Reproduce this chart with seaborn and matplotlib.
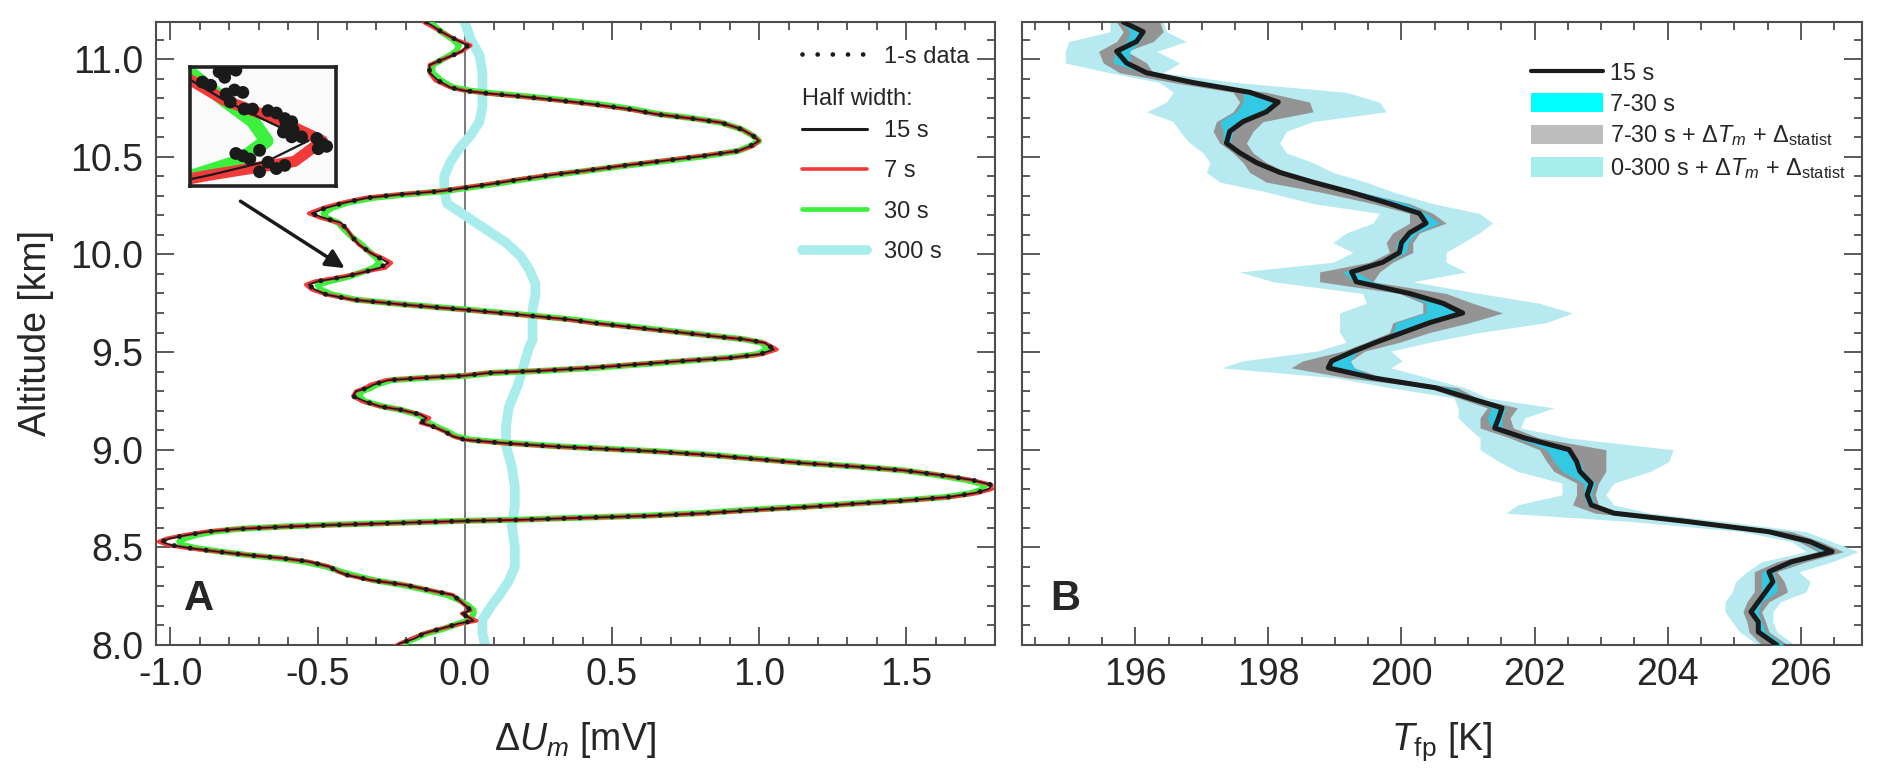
import seaborn as sns
import matplotlib.pyplot as plt
from matplotlib.lines import Line2D
from matplotlib.patches import Patch
from matplotlib.ticker import MultipleLocator, FormatStrFormatter

# ---------------- panel A: voltage deviation vs altitude ----------------
alt_l = [11.19, 11.14, 11.10, 11.07, 11.04, 11.02, 10.97, 10.93, 10.89, 10.855,
         10.838, 10.824, 10.809, 10.792, 10.77, 10.744, 10.718, 10.696, 10.675, 10.641,
         10.607, 10.581, 10.555, 10.530, 10.504, 10.478, 10.453, 10.427, 10.41, 10.384,
         10.358, 10.341, 10.324, 10.307, 10.290, 10.264, 10.239, 10.210, 10.187, 10.162,
         10.128, 10.085, 10.050, 10.008, 9.982, 9.957, 9.931, 9.914, 9.888, 9.862,
         9.845, 9.820, 9.794, 9.768, 9.743, 9.717, 9.691, 9.666, 9.649, 9.614,
         9.599, 9.580, 9.565, 9.547, 9.513, 9.488, 9.470, 9.453, 9.436, 9.419,
         9.405, 9.393, 9.379, 9.367, 9.356, 9.333, 9.316, 9.299, 9.274, 9.248,
         9.222, 9.205, 9.180, 9.162, 9.137, 9.120, 9.094, 9.068, 9.051, 9.034,
         9.017, 9.008, 8.991, 8.974, 8.952, 8.931, 8.914, 8.894, 8.871, 8.846,
         8.820, 8.798, 8.777, 8.757, 8.740, 8.723, 8.709, 8.692, 8.675, 8.661,
         8.652, 8.647, 8.641, 8.635, 8.623, 8.615, 8.606, 8.594, 8.581, 8.564,
         8.546, 8.529, 8.512, 8.495, 8.478, 8.461, 8.444, 8.427, 8.401, 8.375,
         8.358, 8.332, 8.307, 8.281, 8.256, 8.230, 8.204, 8.178, 8.161, 8.136,
         8.124, 8.110, 8.084, 8.059, 8.033, 8.008, 7.991]

# 15 s half width
u15 = [-0.13, -0.08, -0.03, 0.01, -0.01, -0.04, -0.12, -0.12, -0.09, -0.05,
       0.00, 0.08, 0.19, 0.30, 0.43, 0.56, 0.65, 0.77, 0.87, 0.94,
       0.98, 1.00, 0.97, 0.93, 0.81, 0.67, 0.53, 0.40, 0.31, 0.19,
       0.08, 0.00, -0.08, -0.22, -0.33, -0.41, -0.47, -0.52, -0.48, -0.42,
       -0.40, -0.38, -0.36, -0.32, -0.29, -0.26, -0.29, -0.33, -0.40, -0.50,
       -0.53, -0.51, -0.47, -0.38, -0.21, 0.00, 0.19, 0.36, 0.44, 0.65,
       0.74, 0.85, 0.95, 1.02, 1.05, 1.00, 0.90, 0.73, 0.58, 0.43,
       0.27, 0.08, 0.00, -0.15, -0.26, -0.31, -0.33, -0.37, -0.38, -0.34,
       -0.29, -0.22, -0.15, -0.13, -0.15, -0.11, -0.07, -0.04, 0.00, 0.13,
       0.30, 0.42, 0.65, 0.82, 0.99, 1.15, 1.32, 1.49, 1.61, 1.72,
       1.79, 1.78, 1.73, 1.64, 1.50, 1.32, 1.19, 0.99, 0.82, 0.62,
       0.42, 0.31, 0.19, 0.00, -0.26, -0.44, -0.60, -0.77, -0.87, -0.94,
       -1.00, -1.03, -1.00, -0.93, -0.84, -0.74, -0.62, -0.53, -0.46, -0.43,
       -0.40, -0.32, -0.20, -0.12, -0.04, -0.02, 0.00, 0.02, -0.01, 0.02,
       0.03, -0.02, -0.08, -0.14, -0.17, -0.22, -0.24]

# 7 s half width
u7 = [-0.14, -0.08, -0.03, 0.02, -0.01, -0.04, -0.12, -0.12, -0.10, -0.05,
      0.00, 0.07, 0.18, 0.29, 0.42, 0.55, 0.65, 0.77, 0.87, 0.94,
      0.98, 1.00, 0.98, 0.93, 0.80, 0.66, 0.53, 0.40, 0.30, 0.18,
      0.07, -0.01, -0.09, -0.23, -0.34, -0.42, -0.48, -0.53, -0.49, -0.43,
      -0.40, -0.38, -0.36, -0.32, -0.28, -0.25, -0.27, -0.33, -0.41, -0.51,
      -0.54, -0.52, -0.47, -0.38, -0.21, -0.01, 0.18, 0.35, 0.43, 0.64,
      0.74, 0.85, 0.95, 1.02, 1.06, 1.01, 0.90, 0.72, 0.57, 0.42,
      0.26, 0.07, -0.01, -0.16, -0.27, -0.32, -0.34, -0.37, -0.38, -0.35,
      -0.29, -0.22, -0.15, -0.12, -0.15, -0.11, -0.07, -0.04, 0.00, 0.12,
      0.29, 0.41, 0.64, 0.81, 0.98, 1.15, 1.32, 1.49, 1.61, 1.72,
      1.79, 1.79, 1.74, 1.65, 1.51, 1.33, 1.20, 1.00, 0.83, 0.63,
      0.43, 0.32, 0.20, 0.01, -0.25, -0.44, -0.61, -0.78, -0.88, -0.95,
      -1.01, -1.04, -1.01, -0.94, -0.84, -0.74, -0.62, -0.53, -0.46, -0.43,
      -0.40, -0.32, -0.20, -0.12, -0.04, -0.02, 0.00, 0.02, -0.01, 0.02,
      0.04, -0.01, -0.08, -0.14, -0.18, -0.22, -0.24]

# 30 s half width
u30 = [-0.12, -0.08, -0.04, -0.02, -0.03, -0.05, -0.11, -0.11, -0.08, -0.04,
       0.02, 0.10, 0.21, 0.32, 0.45, 0.57, 0.66, 0.78, 0.87, 0.94,
       0.98, 1.00, 0.97, 0.93, 0.82, 0.68, 0.54, 0.41, 0.32, 0.20,
       0.09, 0.01, -0.07, -0.20, -0.31, -0.40, -0.45, -0.48, -0.47, -0.43,
       -0.41, -0.38, -0.35, -0.32, -0.30, -0.29, -0.31, -0.34, -0.39, -0.46,
       -0.50, -0.49, -0.45, -0.37, -0.20, 0.01, 0.20, 0.37, 0.45, 0.66,
       0.75, 0.86, 0.95, 1.01, 1.03, 0.99, 0.89, 0.74, 0.59, 0.44,
       0.28, 0.09, 0.01, -0.14, -0.25, -0.30, -0.32, -0.35, -0.36, -0.34,
       -0.28, -0.22, -0.16, -0.14, -0.12, -0.10, -0.06, -0.03, 0.02, 0.15,
       0.32, 0.44, 0.66, 0.83, 1.00, 1.16, 1.33, 1.49, 1.60, 1.70,
       1.77, 1.76, 1.72, 1.63, 1.49, 1.31, 1.17, 0.97, 0.80, 0.60,
       0.40, 0.29, 0.17, -0.02, -0.29, -0.47, -0.62, -0.77, -0.85, -0.91,
       -0.95, -0.97, -0.96, -0.91, -0.83, -0.74, -0.63, -0.55, -0.47, -0.42,
       -0.38, -0.31, -0.21, -0.13, -0.06, -0.02, 0.01, 0.03, 0.03, 0.02,
       0.01, -0.02, -0.07, -0.13, -0.17, -0.21, -0.23]

# 300 s half width
alt_300 = [11.19, 11.10, 11.02, 10.93, 10.85, 10.76, 10.68, 10.61, 10.54, 10.47,
           10.40, 10.33, 10.26, 10.20, 10.13, 10.06, 9.99, 9.92, 9.85, 9.79,
           9.72, 9.65, 9.56, 9.53, 9.43, 9.33, 9.22, 9.12, 9.02, 8.91,
           8.81, 8.71, 8.61, 8.50, 8.40, 8.33, 8.26, 8.20, 8.13, 8.06, 7.99]
u300 = [0.00, 0.02, 0.05, 0.06, 0.06, 0.06, 0.05, 0.02, -0.02, -0.05,
        -0.07, -0.07, -0.06, 0.00, 0.07, 0.14, 0.19, 0.22, 0.24, 0.24,
        0.23, 0.23, 0.23, 0.22, 0.20, 0.18, 0.15, 0.14, 0.14, 0.16,
        0.17, 0.17, 0.16, 0.17, 0.17, 0.15, 0.12, 0.09, 0.06, 0.06, 0.07]

# 1-s samples shown in the magnified inset
ins_u = [-0.336, -0.330, -0.324, -0.320, -0.316, -0.312, -0.319, -0.316, -0.313, -0.307,
         -0.306, -0.300, -0.289, -0.283, -0.277, -0.276, -0.272, -0.271, -0.278, -0.272,
         -0.265, -0.254, -0.250, -0.253, -0.247, -0.312, -0.307, -0.302, -0.295, -0.289,
         -0.283, -0.277, -0.295]
ins_alt = [10.031, 10.027, 10.044, 10.037, 10.048, 10.046, 10.016, 10.006, 10.021, 10.018,
           9.997, 9.997, 9.995, 9.992, 9.985, 9.976, 9.981, 9.971, 9.968, 9.962,
           9.962, 9.960, 9.953, 9.947, 9.950, 9.941, 9.938, 9.934, 9.945, 9.930,
           9.922, 9.926, 9.918]

# ---------------- panel B: frost point temperature ----------------
alt_r = [11.19, 11.14, 11.09, 11.04, 10.98, 10.93, 10.88, 10.83, 10.78, 10.73,
         10.68, 10.63, 10.57, 10.52, 10.47, 10.42, 10.37, 10.32, 10.26, 10.21,
         10.16, 10.11, 10.06, 10.01, 9.96, 9.91, 9.86, 9.80, 9.75, 9.70,
         9.65, 9.60, 9.55,
         9.505, 9.454, 9.419, 9.368, 9.317, 9.265, 9.214, 9.163, 9.111, 9.060,
         9.000, 8.940, 8.889, 8.829, 8.769, 8.717, 8.675, 8.632, 8.580, 8.529,
         8.478, 8.426, 8.375, 8.324, 8.272, 8.221, 8.170, 8.118, 8.067, 8.000]
t15 = [195.82, 196.12, 196.02, 195.72, 195.87, 196.17, 196.87, 197.72, 198.15, 197.97,
       197.62, 197.42, 197.37, 197.57, 197.82, 198.17, 198.67, 199.22, 199.82, 200.27,
       200.37, 200.12, 200.00, 199.97, 199.72, 199.25, 199.32, 200.12, 200.62, 200.92,
       200.42, 200.02, 199.62,
       199.29, 198.95, 198.90, 199.57, 200.51, 201.01, 201.51, 201.46, 201.40, 201.85,
       202.52, 202.63, 202.68, 202.85, 202.79, 202.85, 203.19, 204.30, 205.52, 206.14,
       206.47, 205.86, 205.52, 205.58, 205.47, 205.36, 205.25, 205.36, 205.36, 205.64]
cyan_lo = [195.80, 195.92, 195.87, 195.70, 195.67, 196.12, 196.82, 197.62, 197.62, 197.52,
           197.27, 197.32, 197.32, 197.52, 197.77, 198.17, 198.67, 199.22, 199.82, 200.22,
           200.32, 200.07, 199.92, 199.92, 199.62, 199.12, 199.27, 200.07, 200.37, 200.37,
           199.92, 199.87, 199.57,
           199.26, 198.95, 198.90, 199.40, 200.51, 200.96, 201.35, 201.29, 201.35, 201.74,
           202.18, 202.29, 202.41, 202.74, 202.74, 202.79, 203.13, 204.30, 205.52, 206.08,
           206.30, 205.75, 205.41, 205.41, 205.41, 205.30, 205.22, 205.30, 205.33, 205.58]
cyan_hi = [195.92, 196.15, 196.07, 195.92, 195.92, 196.25, 196.92, 197.77, 198.17, 198.02,
           197.65, 197.47, 197.42, 197.62, 197.87, 198.27, 198.77, 199.37, 200.07, 200.37,
           200.57, 200.22, 200.10, 200.07, 199.77, 199.32, 199.57, 200.17, 200.67, 200.95,
           200.47, 200.07, 199.67,
           199.34, 199.23, 199.29, 199.62, 200.74, 201.07, 201.57, 201.51, 201.51, 201.90,
           202.54, 202.68, 202.74, 202.91, 202.85, 202.91, 203.24, 204.47, 205.69, 206.25,
           206.50, 205.97, 205.58, 205.64, 205.64, 205.41, 205.36, 205.41, 205.47, 205.75]
gray_lo = [195.72, 195.82, 195.72, 195.45, 195.52, 195.77, 196.57, 197.47, 197.57, 197.47,
           197.22, 197.17, 197.27, 197.47, 197.62, 197.72, 197.97, 198.77, 199.57, 200.12,
           200.12, 199.87, 199.77, 199.82, 199.52, 198.77, 198.77, 199.97, 200.32, 200.32,
           199.87, 199.82, 199.47,
           199.12, 198.51, 198.34, 199.18, 200.40, 200.85, 201.29, 201.18, 201.18, 201.63,
           202.07, 202.18, 202.29, 202.63, 202.63, 202.57, 202.91, 204.13, 205.41, 205.97,
           206.25, 205.64, 205.30, 205.30, 205.30, 205.19, 205.13, 205.19, 205.22, 205.41]
gray_hi = [196.37, 196.42, 196.27, 195.87, 196.17, 196.27, 196.97, 197.97, 198.62, 198.67,
           197.92, 197.77, 197.67, 197.77, 197.97, 198.27, 198.77, 199.37, 200.12, 200.47,
           200.67, 200.27, 200.17, 200.17, 199.87, 199.67, 199.57, 200.67, 201.07, 201.52,
           201.02, 200.42, 199.97,
           199.45, 199.23, 199.29, 199.73, 200.85, 201.13, 201.74, 201.63, 201.68, 202.07,
           203.07, 203.07, 203.07, 202.96, 202.91, 202.96, 203.30, 204.52, 205.86, 206.30,
           206.64, 206.08, 205.64, 205.75, 205.80, 205.52, 205.41, 205.47, 205.52, 205.80]
pale_lo = [195.62, 195.62, 195.00, 194.95, 194.95, 195.62, 196.37, 196.57, 196.47, 196.17,
           196.57, 196.67, 196.82, 197.02, 197.12, 197.07, 197.27, 197.97, 198.67, 199.67,
           199.57, 199.17, 198.97, 199.27, 198.97, 197.57, 198.07, 199.42, 199.47, 199.07,
           199.07, 199.07, 199.17,
           198.73, 197.60, 197.30, 199.01, 199.84, 200.79, 200.85, 200.85, 201.01, 201.18,
           201.18, 201.46, 201.74, 202.41, 202.41, 201.74, 201.57, 203.46, 205.13, 205.86,
           206.08, 205.41, 205.19, 205.02, 204.97, 204.86, 204.86, 204.97, 205.08, 205.36]
pale_hi = [196.42, 196.47, 196.77, 196.32, 196.67, 196.42, 197.52, 199.17, 199.67, 199.77,
           198.67, 198.27, 198.17, 198.27, 198.67, 198.97, 199.47, 199.87, 200.47, 201.17,
           201.37, 201.17, 200.92, 200.67, 200.67, 200.97, 200.17, 201.17, 202.07, 202.57,
           202.17, 201.17, 200.42,
           199.84, 200.01, 199.84, 200.40, 200.96, 201.29, 202.29, 201.85, 201.79, 202.52,
           204.08, 204.02, 203.74, 203.19, 203.07, 203.19, 203.74, 204.86, 206.08, 206.47,
           206.86, 206.47, 205.97, 206.14, 206.08, 205.69, 205.58, 205.58, 205.64, 205.91]

sns.set_theme(style="ticks")
plt.rcParams['font.family'] = ['Liberation Sans', 'DejaVu Sans']
plt.rcParams['mathtext.fontset'] = 'custom'
plt.rcParams['mathtext.rm'] = 'Liberation Sans'
plt.rcParams['mathtext.it'] = 'Liberation Sans:italic'
plt.rcParams['mathtext.bf'] = 'Liberation Sans:bold'
plt.rcParams['axes.unicode_minus'] = False

RED, GREEN, PALE = '#f23a3a', '#3ef03e', '#a8ecec'

fig = plt.figure(figsize=(18.92, 7.8), dpi=100)
axA = fig.add_axes([0.0823, 0.1731, 0.4434, 0.7987])
axB = fig.add_axes([0.5402, 0.1731, 0.4440, 0.7987])


def style_axis(ax):
    for s in ax.spines.values():
        s.set_color('#4d4d4d')
        s.set_linewidth(1.5)
    ax.tick_params(which='both', direction='in', top=True, right=True,
                   color='#4d4d4d', width=1.3, labelsize=27, pad=9)
    ax.tick_params(which='major', length=13)
    ax.tick_params(which='minor', length=6)
    ax.set_ylim(8.0, 11.19)
    ax.yaxis.set_major_locator(MultipleLocator(0.5))
    ax.yaxis.set_minor_locator(MultipleLocator(0.1))
    ax.yaxis.set_major_formatter(FormatStrFormatter('%.1f'))
    ax.grid(False)


# ---- panel A
axA.axvline(0, color='#6e6e6e', lw=1.3, zorder=1)
sns.lineplot(x=u300, y=alt_300, sort=False, estimator=None, color=PALE, lw=7, ax=axA, zorder=2)
sns.lineplot(x=u30, y=alt_l, sort=False, estimator=None, color=GREEN, lw=4.4, ax=axA, zorder=3)
sns.lineplot(x=u7, y=alt_l, sort=False, estimator=None, color=RED, lw=2.8, ax=axA, zorder=4)
sns.lineplot(x=u15, y=alt_l, sort=False, estimator=None, color='k', lw=1.2, ax=axA, zorder=5)
sns.lineplot(x=u15, y=alt_l, sort=False, estimator=None, color='k', lw=3.6,
             linestyle=(0, (0.01, 3.2)), dash_capstyle='round', ax=axA, zorder=6)

style_axis(axA)
axA.set_xlim(-1.05, 1.80)
axA.xaxis.set_major_locator(MultipleLocator(0.5))
axA.xaxis.set_minor_locator(MultipleLocator(0.1))
axA.xaxis.set_major_formatter(FormatStrFormatter('%.1f'))
axA.set_ylabel('Altitude [km]', fontsize=27, labelpad=12)
axA.set_xlabel(r'$\Delta U_m$ [mV]', fontsize=27, labelpad=19)
axA.text(0.052, 0.074, 'A', transform=axA.transAxes, fontsize=30,
         fontweight='bold', ha='center', va='center')

axA.annotate('', xy=(-0.40, 9.922), xytext=(-0.77, 10.28),
             arrowprops=dict(arrowstyle='-|>', color='k', lw=2.5, mutation_scale=28))

leg1 = axA.legend(handles=[Line2D([], [], color='k', lw=3.4, linestyle=(0, (0.01, 3.2)),
                                  dash_capstyle='round')],
                  labels=['1-s data'], loc='upper left', bbox_to_anchor=(0.770, 0.962),
                  frameon=False, fontsize=17, handlelength=2.75, handletextpad=0.75,
                  borderpad=0, borderaxespad=0)
axA.add_artist(leg1)
axA.text(0.770, 0.877, 'Half width:', transform=axA.transAxes, fontsize=17,
         ha='left', va='center')
axA.legend(handles=[Line2D([], [], color='k', lw=2.2),
                    Line2D([], [], color=RED, lw=2.6),
                    Line2D([], [], color=GREEN, lw=3.4),
                    Line2D([], [], color=PALE, lw=7)],
           labels=['15 s', '7 s', '30 s', '300 s'], loc='upper left',
           bbox_to_anchor=(0.770, 0.843), frameon=False, fontsize=17,
           handlelength=2.75, handletextpad=0.75, labelspacing=0.78,
           borderpad=0, borderaxespad=0)

# magnified inset
axI = fig.add_axes([0.1003, 0.7615, 0.0775, 0.1526])
sns.lineplot(x=u30, y=alt_l, sort=False, estimator=None, color=GREEN, lw=10, ax=axI)
sns.lineplot(x=u7, y=alt_l, sort=False, estimator=None, color=RED, lw=8, ax=axI)
sns.lineplot(x=u15, y=alt_l, sort=False, estimator=None, color='k', lw=1.6, ax=axI)
sns.scatterplot(x=ins_u, y=ins_alt, color='k', s=85, edgecolor='none', ax=axI, zorder=5)
axI.set_xlim(-0.345, -0.24)
axI.set_ylim(9.90, 10.05)
axI.set_xticks([])
axI.set_yticks([])
axI.set_facecolor('#fbfbfb')
for s in axI.spines.values():
    s.set_color('#222222')
    s.set_linewidth(2.6)

# ---- panel B
axB.fill_betweenx(alt_r, pale_lo, pale_hi, color='#b6eaf0', lw=0, zorder=1)
axB.fill_betweenx(alt_r, gray_lo, gray_hi, color='#949494', lw=0, zorder=2)
axB.fill_betweenx(alt_r, cyan_lo, cyan_hi, color='#33c9e3', lw=0, zorder=3)
sns.lineplot(x=t15, y=alt_r, sort=False, estimator=None, color='k', lw=3.6, ax=axB, zorder=4)

style_axis(axB)
axB.set_xlim(194.3, 206.92)
axB.xaxis.set_major_locator(MultipleLocator(2))
axB.xaxis.set_minor_locator(MultipleLocator(0.5))
axB.xaxis.set_major_formatter(FormatStrFormatter('%d'))
axB.tick_params(axis='y', labelleft=False)
axB.set_ylabel('')
axB.set_xlabel(r'$T_{\mathrm{fp}}$ [K]', fontsize=27, labelpad=19)
axB.text(0.052, 0.074, 'B', transform=axB.transAxes, fontsize=30,
         fontweight='bold', ha='center', va='center')

axB.legend(handles=[Line2D([], [], color='k', lw=3),
                    Patch(facecolor='#00ffff', edgecolor='none'),
                    Patch(facecolor='#bdbdbd', edgecolor='none'),
                    Patch(facecolor='#a6eeee', edgecolor='none')],
           labels=['15 s', '7-30 s',
                   r'7-30 s + $\Delta T_m$ + $\Delta_{\mathrm{statist}}$',
                   r'0-300 s + $\Delta T_m$ + $\Delta_{\mathrm{statist}}$'],
           loc='upper left', bbox_to_anchor=(0.606, 0.936), frameon=False,
           fontsize=16.8, handlelength=3.1, handleheight=0.9, handletextpad=0.3,
           labelspacing=0.33, borderpad=0, borderaxespad=0)

fig.savefig('out.png', dpi=100)
